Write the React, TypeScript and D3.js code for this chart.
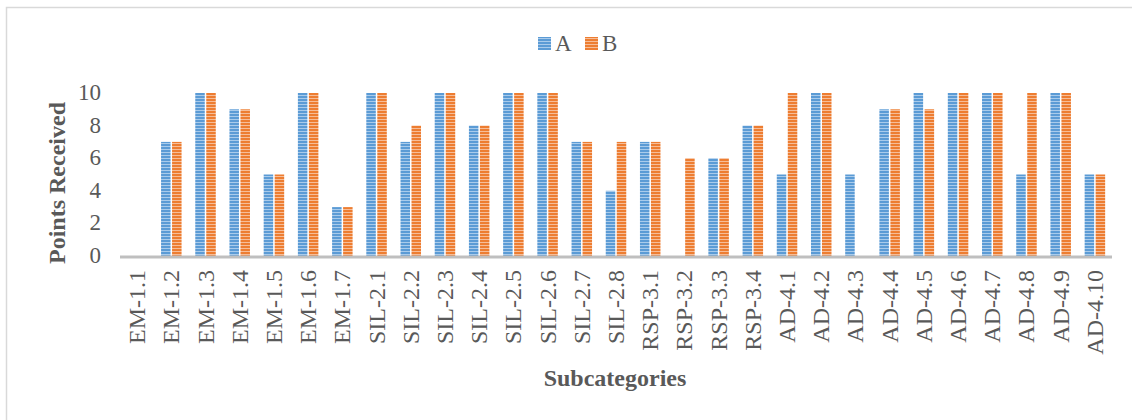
import * as d3 from 'd3';
import React, { useEffect, useRef } from 'react';

const categories = [
  'EM-1.1', 'EM-1.2', 'EM-1.3', 'EM-1.4', 'EM-1.5', 'EM-1.6', 'EM-1.7',
  'SIL-2.1', 'SIL-2.2', 'SIL-2.3', 'SIL-2.4', 'SIL-2.5', 'SIL-2.6', 'SIL-2.7', 'SIL-2.8',
  'RSP-3.1', 'RSP-3.2', 'RSP-3.3', 'RSP-3.4',
  'AD-4.1', 'AD-4.2', 'AD-4.3', 'AD-4.4', 'AD-4.5', 'AD-4.6', 'AD-4.7', 'AD-4.8', 'AD-4.9', 'AD-4.10',
];
const seriesA = [0, 7, 10, 9, 5, 10, 3, 10, 7, 10, 8, 10, 10, 7, 4, 7, 0, 6, 8, 5, 10, 5, 9, 10, 10, 10, 5, 10, 5];
const seriesB = [0, 7, 10, 9, 5, 10, 3, 10, 8, 10, 8, 10, 10, 7, 7, 7, 6, 6, 8, 10, 10, 0, 9, 9, 10, 10, 10, 10, 5];
const seriesNames = ['A', 'B'];
const yTicks = [0, 2, 4, 6, 8, 10];

const colors = ['#5b9bd5', '#ed7d31'];
const light = ['#a9cbeb', '#f6bd98'];

const width = 1132;
const height = 420;
const margin = { top: 93, right: 20, bottom: 164, left: 120 };

export default function App() {
  const ref = useRef<SVGSVGElement>(null);

  useEffect(() => {
    const svg = d3.select(ref.current);
    svg.selectAll('*').remove();

    const defs = svg.append('defs');
    colors.forEach((c, i) => {
      const p = defs.append('pattern')
        .attr('id', 'stripe' + i)
        .attr('patternUnits', 'userSpaceOnUse')
        .attr('width', 4)
        .attr('height', 3);
      p.append('rect').attr('width', 4).attr('height', 3).attr('fill', c);
      p.append('rect').attr('y', 2).attr('width', 4).attr('height', 1).attr('fill', light[i]);
    });

    // frame
    svg.append('path')
      .attr('d', `M6.5,${height} V7.5 H${width}`)
      .attr('fill', 'none')
      .attr('stroke', '#d9d9d9')
      .attr('stroke-width', 1.5);

    const x = d3.scaleBand()
      .domain(categories)
      .range([margin.left, width - margin.right]);
    const y = d3.scaleLinear()
      .domain([0, 10])
      .range([height - margin.bottom, margin.top]);

    const barW = 9.5;
    const gap = 1.5;
    const data = [seriesA, seriesB];

    data.forEach((vals, si) => {
      svg.append('g')
        .selectAll('rect')
        .data(vals)
        .join('rect')
        .attr('x', (d, i) => x(categories[i])! + x.bandwidth() / 2 - barW - gap / 2 + si * (barW + gap))
        .attr('width', barW)
        .attr('y', (d) => y(d))
        .attr('height', (d) => y(0) - y(d))
        .attr('fill', `url(#stripe${si})`);
    });

    // baseline
    svg.append('line')
      .attr('x1', margin.left)
      .attr('x2', width - margin.right)
      .attr('y1', y(0) + 1)
      .attr('y2', y(0) + 1)
      .attr('stroke', '#bfbfbf')
      .attr('stroke-width', 3);

    const font = '"Liberation Serif", "Times New Roman", serif';

    // y tick labels
    svg.append('g')
      .selectAll('text')
      .data(yTicks)
      .join('text')
      .attr('x', 101)
      .attr('y', (d) => y(d) + 7)
      .attr('text-anchor', 'end')
      .attr('font-family', font)
      .attr('font-size', 23)
      .attr('fill', '#595959')
      .text((d) => d);

    // x category labels
    svg.append('g')
      .selectAll('text')
      .data(categories)
      .join('text')
      .attr('transform', (d) => `translate(${x(d)! + x.bandwidth() / 2 + 8},270) rotate(-90)`)
      .attr('text-anchor', 'end')
      .attr('font-family', font)
      .attr('font-size', 24)
      .attr('fill', '#595959')
      .text((d) => d);

    // axis titles
    svg.append('text')
      .attr('transform', `translate(65,183) rotate(-90)`)
      .attr('text-anchor', 'middle')
      .attr('font-family', font)
      .attr('font-weight', 'bold')
      .attr('font-size', 24)
      .attr('fill', '#595959')
      .text('Points Received');

    svg.append('text')
      .attr('x', 615)
      .attr('y', 386)
      .attr('text-anchor', 'middle')
      .attr('font-family', font)
      .attr('font-weight', 'bold')
      .attr('font-size', 24)
      .attr('fill', '#595959')
      .text('Subcategories');

    // legend
    const legend = svg.append('g');
    const lx = [538, 585];
    seriesNames.forEach((n, i) => {
      legend.append('rect')
        .attr('x', lx[i])
        .attr('y', 37)
        .attr('width', 13)
        .attr('height', 13)
        .attr('fill', `url(#stripe${i})`);
      legend.append('text')
        .attr('x', lx[i] + 17)
        .attr('y', 51)
        .attr('font-family', font)
        .attr('font-size', 23)
        .attr('fill', '#595959')
        .text(n);
    });
  }, []);

  return (
    <svg
      ref={ref}
      width={width}
      height={height}
      style={{ position: 'absolute', left: 0, top: 0, background: '#fff' }}
    />
  );
}
